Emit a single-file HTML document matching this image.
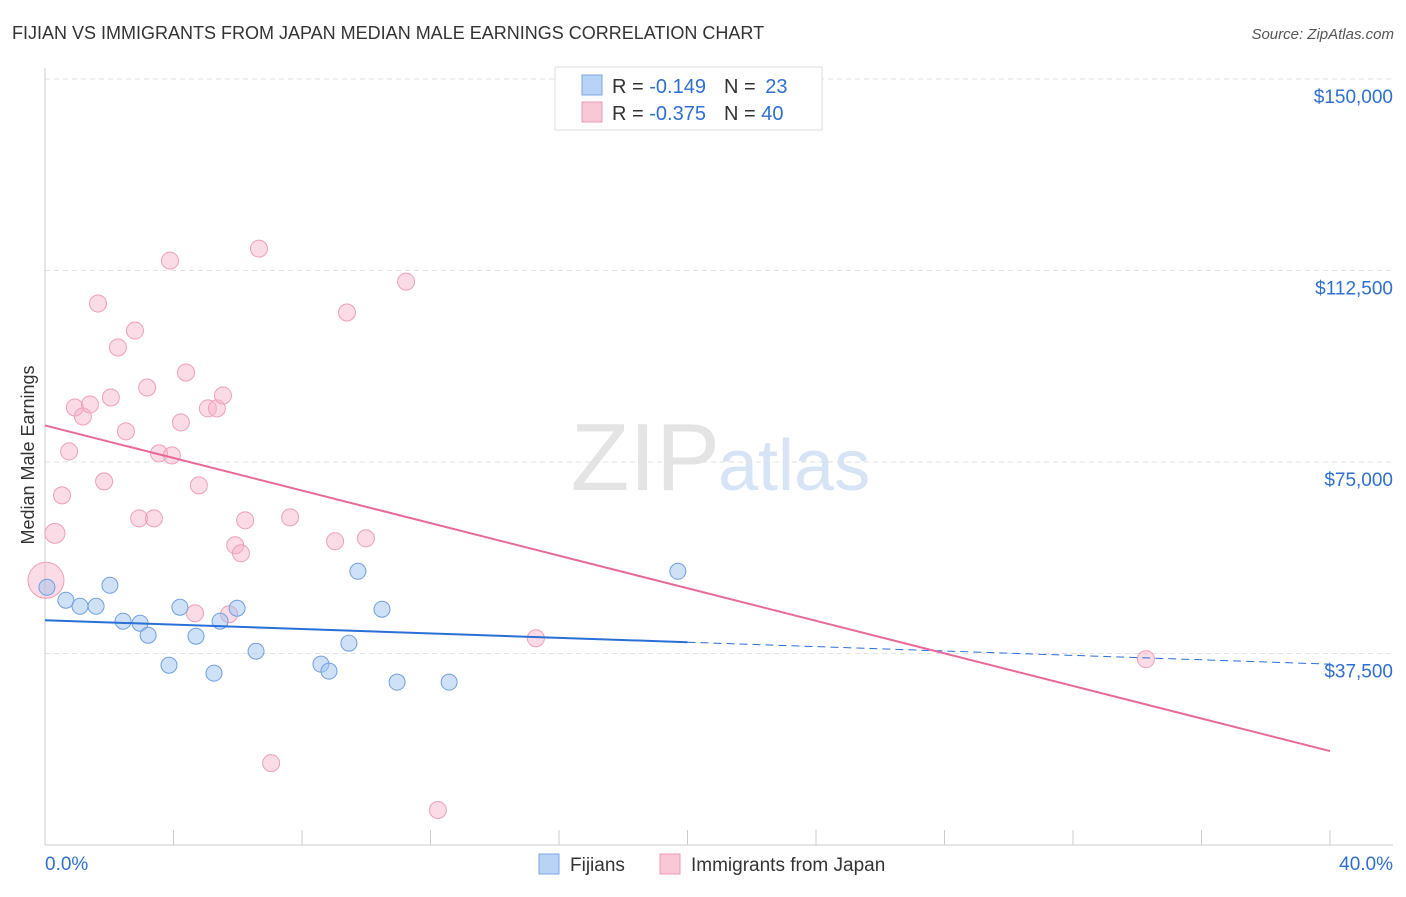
<!DOCTYPE html>
<html><head><meta charset="utf-8"><style>
body{margin:0;background:#fff;font-family:"Liberation Sans",sans-serif;}
svg text{font-family:"Liberation Sans",sans-serif;}
</style></head><body>
<svg id="chart" width="1406" height="892">
<text x="12" y="39" font-size="18" fill="#333">FIJIAN VS IMMIGRANTS FROM JAPAN MEDIAN MALE EARNINGS CORRELATION CHART</text>
<text x="1394" y="39" font-size="15" fill="#555" font-style="italic" text-anchor="end">Source: ZipAtlas.com</text>
<text x="720" y="490" font-size="96" fill="#e4e4e4" text-anchor="end" font-family="Liberation Serif">ZIP</text>
<text x="718" y="490" font-size="72" fill="#d6e4f5">atlas</text>
<text transform="translate(34,455) rotate(-90)" font-size="18" fill="#333" text-anchor="middle">Median Male Earnings</text>
<g id="grid"></g><g id="marks"></g>
<g>
<rect x="555" y="67" width="267" height="63" fill="#fff" stroke="#ddd"/>
<rect x="582" y="75" width="20" height="20" fill="#b8d3f5" stroke="#7aa8e6"/>
<rect x="582" y="102" width="20" height="20" fill="#f9c8d6" stroke="#ee9ab4"/>
<text x="612" y="93" font-size="20" fill="#333">R = <tspan fill="#2f6fd0">-0.149</tspan><tspan dx="18">N = </tspan><tspan fill="#2f6fd0" dx="4">23</tspan></text>
<text x="612" y="120" font-size="20" fill="#333">R = <tspan fill="#2f6fd0">-0.375</tspan><tspan dx="18">N = </tspan><tspan fill="#2f6fd0">40</tspan></text>
</g>
<g>
<rect x="539" y="854" width="20" height="20" fill="#b8d3f5" stroke="#7aa8e6"/>
<text x="570" y="871" font-size="19" fill="#333">Fijians</text>
<rect x="660" y="854" width="20" height="20" fill="#f9c8d6" stroke="#ee9ab4"/>
<text x="691" y="871" font-size="19" fill="#333">Immigrants from Japan</text>
</g>
</svg>
<script>
const yTicks=[37500,75000,112500,150000];
const yTickLabels=["$37,500","$75,000","$112,500","$150,000"];
const xTicks=[0,4,8,12,16,20,24,28,32,36,40];
const blueX=[0.06,0.65,1.09,1.59,2.02,2.43,2.96,3.21,3.86,4.20,4.70,5.26,5.45,5.98,6.57,8.59,8.84,9.46,9.74,10.49,10.96,12.58,19.70];
const blueY=[50470,47930,46750,46750,50860,43820,43430,41080,35210,46560,40880,33650,43820,46360,37950,35410,34040,39520,53600,46170,31890,31890,53600];
const pinkX=[0.03,0.31,0.53,0.75,0.93,1.18,1.40,1.65,1.84,2.05,2.27,2.52,2.80,2.93,3.18,3.39,3.55,3.89,3.95,4.23,4.39,4.79,5.07,5.35,5.54,5.73,5.92,6.10,6.23,4.67,6.66,7.04,7.63,9.03,9.40,9.99,11.24,12.23,15.28,34.27];
const pinkY=[51840,61030,68470,77070,85680,83920,86270,106030,71210,87640,97420,80990,100740,63970,89590,63970,76680,114440,76290,82750,92530,70420,85490,85490,88030,45190,58690,57120,63580,45380,116790,16040,64160,59470,104270,60060,110330,6850,40490,36390];
const blueTrend=[44010,35410];
const pinkTrend=[82160,18390];
const NS="http://www.w3.org/2000/svg";
const X=v=>45+v/40*1285, Y=v=>845-v/150000*766;
function mk(tag,at,parent){const e=document.createElementNS(NS,tag);for(const k in at)e.setAttribute(k,at[k]);parent.appendChild(e);return e;}
const grid=document.getElementById('grid'),marks=document.getElementById('marks');
yTicks.forEach((t,i)=>{
 const l=mk('line',{x1:45,x2:1393,y1:Y(t),y2:Y(t),stroke:'#e2e2e2','stroke-dasharray':'5,4'},grid);
 
 
 const tx=mk('text',{x:1393,y:Y(t)+24,'font-size':19,fill:'#2f6fd0','text-anchor':'end'},grid);
 tx.textContent=yTickLabels[i];
 
 
});
mk('line',{x1:45,x2:1393,y1:Y(150000)-10,y2:Y(150000)-10,stroke:'#fff'},grid);
mk('line',{x1:45,x2:45,y1:68,y2:845,stroke:'#ccc'},grid);
mk('line',{x1:45,x2:1393,y1:845,y2:845,stroke:'#ccc'},grid);
xTicks.forEach(t=>{const l=mk('line',{x1:X(t),x2:X(t),y1:830,y2:845,stroke:'#ccc'},grid);
 
 });
const x0=mk('text',{x:45,y:870,'font-size':19,fill:'#2f6fd0'},grid);x0.textContent='0.0%';


const x1=mk('text',{x:1393,y:870,'font-size':19,fill:'#2f6fd0','text-anchor':'end'},grid);x1.textContent='40.0%';


pinkX.forEach((x,i)=>{const c=mk('circle',{cx:X(x),cy:Y(pinkY[i]),r:i==0?18:(i==1?10:8.5),fill:'rgba(246,175,198,0.45)',stroke:'#eea0b8','stroke-width':1},marks);
 
 });
blueX.forEach((x,i)=>{const c=mk('circle',{cx:X(x),cy:Y(blueY[i]),r:8,fill:'rgba(160,196,240,0.5)',stroke:'#6f9fe0','stroke-width':1},marks);
 
 });
const bAt=x=>blueTrend[0]+(blueTrend[1]-blueTrend[0])*x/40;
const b1=mk('line',{x1:X(0),y1:Y(bAt(0)),x2:X(20),y2:Y(bAt(20)),stroke:'#2a6fd6','stroke-width':2},marks);


const b2=mk('line',{x1:X(20),y1:Y(bAt(20)),x2:X(40),y2:Y(bAt(40)),stroke:'#2a6fd6','stroke-width':1,'stroke-dasharray':'8,5'},marks);


const p=mk('line',{x1:X(0),y1:Y(pinkTrend[0]),x2:X(40),y2:Y(pinkTrend[1]),stroke:'#e8689a','stroke-width':2},marks);


</script>
</body></html>
